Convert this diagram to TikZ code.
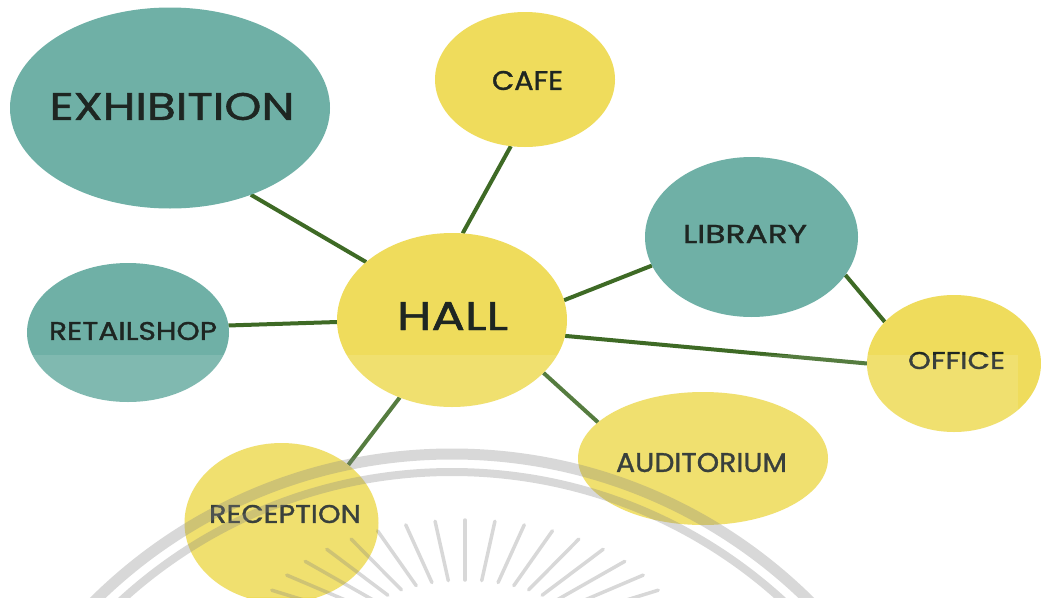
\documentclass[tikz,border=0pt]{standalone}
\usepackage{fontspec}
\setmainfont{Poppins}
\newfontfamily\lblfont{Poppins}[FakeBold=1.2]
\usetikzlibrary{shapes.geometric,calc}
\pgfdeclarelayer{bg}
\pgfsetlayers{bg,main}
\definecolor{tealc}{HTML}{6FB0A6}
\definecolor{yelc}{HTML}{EFDC5C}
\definecolor{edgec}{HTML}{3E6A25}
\definecolor{txtc}{HTML}{1E2622}
\newcommand{\lbl}[3]{\resizebox{#1pt}{#2pt}{\lblfont #3}}
\begin{document}
\begin{tikzpicture}[x=1pt,y=-1pt,
  bub/.style={ellipse, inner sep=0pt, outer sep=0pt, draw=none},
  tbub/.style={bub, fill=tealc},
  ybub/.style={bub, fill=yelc},
  txt/.style={text=txtc, inner sep=0pt},
  link/.style={draw=edgec, line width=4pt},
  wm/.style={draw=gray, opacity=0.3}]
\useasboundingbox (0,0) rectangle (1041,597);
% bubbles
\node[tbub, minimum width=320pt, minimum height=201pt] (exh) at (170,108) {};
\node[ybub, minimum width=180pt, minimum height=135pt] (cafe) at (525,79.5) {};
\node[tbub, minimum width=213pt, minimum height=160pt] (lib) at (751.5,237) {};
\node[tbub, minimum width=202pt, minimum height=139pt] (ret) at (128,332.5) {};
\node[ybub, minimum width=230pt, minimum height=174pt] (hall) at (452,320) {};
\node[ybub, minimum width=174pt, minimum height=137pt] (off) at (954,363.5) {};
\node[ybub, minimum width=250pt, minimum height=133pt] (aud) at (703,458.5) {};
\node[ybub, minimum width=194pt, minimum height=160pt] (rec) at (281.5,523) {};
% labels
\node[txt] (exhT) at (172,106.5) {\lbl{245}{27}{EXHIBITION}};
\node[txt] (cafeT) at (527.5,80.5) {\lbl{71}{19}{CAFE}};
\node[txt] (libT) at (745,234) {\lbl{124}{18}{LIBRARY}};
\node[txt] (retT) at (133,331) {\lbl{168}{18}{RETAILSHOP}};
\node[txt] (hallT) at (452.5,316) {\lbl{111}{28}{HALL}};
\node[txt] (offT) at (956.5,360.5) {\lbl{97}{17}{OFFICE}};
\node[txt] (audT) at (701.5,462.5) {\lbl{171}{19}{AUDITORIUM}};
\node[txt] (recT) at (285,514) {\lbl{152}{18}{RECEPTION}};
% connectors and background
\begin{pgfonlayer}{bg}
  \fill[white] (0,0) rectangle (1041,597);
  \draw[link] (exh.-47) -- (hall.146);
  \draw[link] (cafe.-102) -- (hall.83);
  \draw[link] (lib.-164) -- (hall.10);
  \draw[link] (lib.-22) -- (off.149);
  \draw[link] (hall.-8) -- (off.180);
  \draw[link] (ret.4) -- (hall.181);
  \draw[link] (hall.-124) -- (rec.41);
  \draw[link] (hall.-30) -- (aud.161);
\end{pgfonlayer}
% faint lighter band and watermark
\begin{scope}
  \clip (0,0) rectangle (1041,597);
  \fill[white, opacity=0.12] (0,355) rectangle (1018,597);
  \coordinate (wc) at (452,962);
  \draw[wm, line width=11pt] (wc) circle (508);
  \draw[wm, line width=8pt] (wc) circle (490);
  \coordinate (rc) at (465,645);
  \foreach \a in {198,206,...,342} {
    \draw[wm, line width=3.5pt, line cap=round]
      ($(rc)+({215*cos(\a)},{125*sin(\a)})$) -- ($(rc)+({120*cos(\a)},{65*sin(\a)})$);
  }
\end{scope}
\end{tikzpicture}
\end{document}
